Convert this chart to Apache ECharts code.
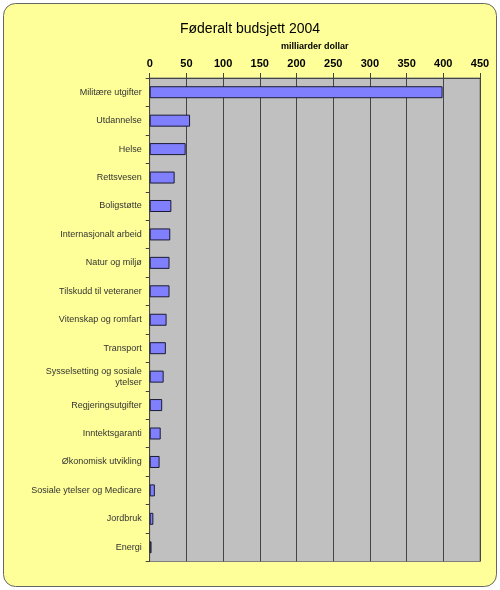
<!DOCTYPE html>
<html>
<head>
<meta charset="utf-8">
<script src="https://cdn.jsdelivr.net/npm/echarts@6/dist/echarts.min.js"></script>
<style>html,body{margin:0;padding:0;background:#fff;}#c{width:500px;height:590px;}</style>
</head>
<body>
<div id="c"></div>
<script>
var categories = ["Militære utgifter","Utdannelse","Helse","Rettsvesen","Boligstøtte","Internasjonalt arbeid","Natur og miljø","Tilskudd til veteraner","Vitenskap og romfart","Transport","Sysselsetting og sosiale\nytelser","Regjeringsutgifter","Inntektsgaranti","Økonomisk utvikling","Sosiale ytelser og Medicare","Jordbruk","Energi"];
var values = [399, 55, 49, 34, 29.5, 28, 27, 27, 23, 22, 19, 17, 15, 13.5, 7, 5, 2.5];
var xTicks = [0, 50, 100, 150, 200, 250, 300, 350, 400, 450];

var chart = echarts.init(document.getElementById('c'));
var font = 'Arial, "Liberation Sans", sans-serif';
chart.setOption({
  animation: false,
  backgroundColor: '#ffffff',
  graphic: [{
    type: 'rect', z: -10, silent: true,
    shape: {x: 3.5, y: 3.5, width: 493, height: 583, r: 12},
    style: {fill: '#FFFF99', stroke: '#666666', lineWidth: 1}
  }],
  title: {
    text: 'Føderalt budsjett 2004', left: 'center', top: 17,
    textStyle: {fontFamily: font, fontSize: 14, fontWeight: 'normal', color: '#000'}
  },
  grid: {left: 149.7, right: 20, top: 78, bottom: 28.5, show: true, backgroundColor: '#C0C0C0', borderColor: '#808080', borderWidth: 1},
  xAxis: {
    type: 'value', position: 'top', min: xTicks[0], max: xTicks[xTicks.length - 1], interval: xTicks[1] - xTicks[0],
    name: 'milliarder dollar', nameLocation: 'middle', nameGap: 27,
    nameTextStyle: {fontFamily: font, fontSize: 9, fontWeight: 'bold', color: '#000'},
    axisLine: {show: true, lineStyle: {color: '#444'}},
    axisTick: {show: true, length: 5, lineStyle: {color: '#444'}},
    axisLabel: {fontFamily: font, fontSize: 11, fontWeight: 'bold', color: '#000', margin: 9},
    splitLine: {show: true, lineStyle: {color: '#444', width: 1}}
  },
  yAxis: {
    type: 'category', inverse: true, data: categories,
    axisLine: {show: true, lineStyle: {color: '#444'}},
    axisTick: {show: true, length: 4, lineStyle: {color: '#444'}},
    axisLabel: {fontFamily: font, fontSize: 9, color: '#333', margin: 8, lineHeight: 11}
  },
  series: [{
    type: 'bar', data: values, barWidth: 12,
    itemStyle: {color: '#8080FF', borderColor: '#1a1a33', borderWidth: 1}
  }]
});
</script>
</body>
</html>
